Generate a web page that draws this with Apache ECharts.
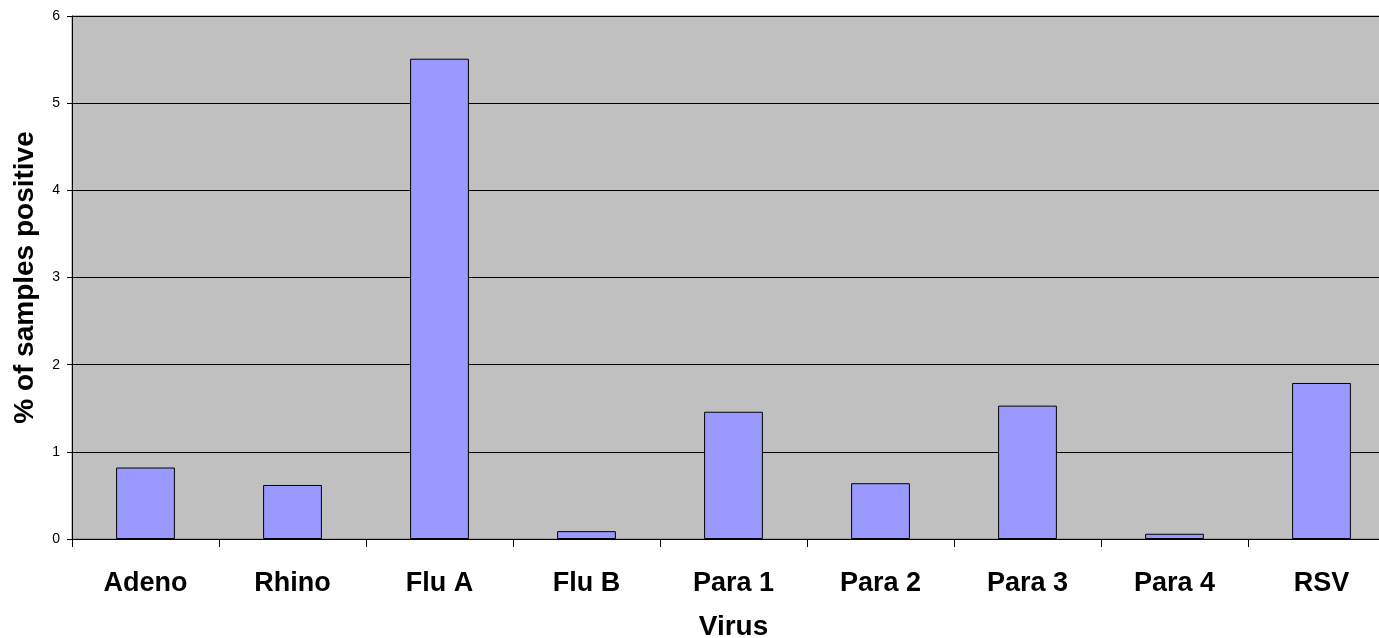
<!DOCTYPE html>
<html>
<head>
<meta charset="utf-8">
<script src="https://cdn.jsdelivr.net/npm/echarts@6/dist/echarts.min.js"></script>
<style>
html,body{margin:0;padding:0;background:#fff;}
#c{width:1379px;height:638px;}
</style>
</head>
<body>
<div id="c"></div>
<script>
const categories = ['Adeno', 'Rhino', 'Flu A', 'Flu B', 'Para 1', 'Para 2', 'Para 3', 'Para 4', 'RSV'];
const values = [0.82, 0.62, 5.51, 0.09, 1.46, 0.64, 1.53, 0.06, 1.79];
const xAxisTitle = 'Virus';
const yAxisTitle = '% of samples positive';

const FONT = '"Liberation Sans", Arial, sans-serif';
const chart = echarts.init(document.getElementById('c'), null, {renderer: 'canvas'});
chart.setOption({
  animation: false,
  backgroundColor: '#ffffff',
  grid: {
    left: 72, top: 16, right: -16, bottom: 99,
    containLabel: false,
    outerBoundsMode: 'none',
    show: true, backgroundColor: '#C0C0C0', borderColor: '#808080', borderWidth: 1
  },
  xAxis: {
    type: 'category',
    data: categories,
    boundaryGap: true,
    name: xAxisTitle,
    nameLocation: 'middle',
    nameGap: 74,
    nameTextStyle: {fontFamily: FONT, fontWeight: 'bold', fontSize: 28, color: '#000'},
    axisLine: {show: true, lineStyle: {color: '#000', width: 1}},
    axisTick: {show: true, alignWithLabel: false, length: 8, lineStyle: {color: '#000'}},
    axisLabel: {fontFamily: FONT, fontWeight: 'bold', fontSize: 27, color: '#000', margin: 31, interval: 0},
    splitLine: {show: false}
  },
  yAxis: {
    type: 'value',
    min: 0, max: 6, interval: 1,
    name: yAxisTitle,
    nameLocation: 'middle',
    nameGap: 33,
    nameRotate: 90,
    nameTextStyle: {fontFamily: FONT, fontWeight: 'bold', fontSize: 28, color: '#000'},
    axisLine: {show: true, lineStyle: {color: '#000', width: 1}},
    axisTick: {show: true, length: 5, lineStyle: {color: '#000'}},
    axisLabel: {fontFamily: FONT, fontSize: 14, color: '#000', margin: 12},
    splitLine: {show: true, lineStyle: {color: '#000', width: 1}}
  },
  series: [{
    type: 'bar',
    data: values,
    barWidth: '40%',
    itemStyle: {color: '#9999FF', borderColor: '#000', borderWidth: 1}
  }]
});
</script>
</body>
</html>
